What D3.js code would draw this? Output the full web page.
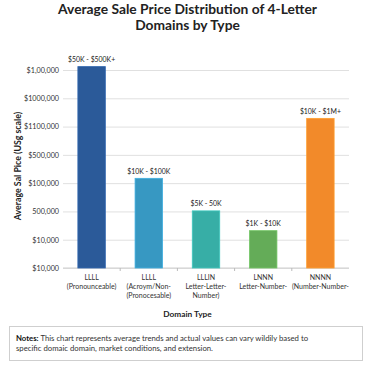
<!DOCTYPE html>
<html><head><meta charset="utf-8">
<script src="https://cdn.jsdelivr.net/npm/d3@7"></script>
<style>
html,body{margin:0;padding:0;background:#fff;}
svg{display:block;font-family:Lato,"Open Sans",sans-serif;}
</style></head>
<body>
<svg id="c" width="375" height="366"></svg>
<script>
// Data (values in axis-step units: each gridline is one step)
const categories = ["LLLL (Pronounceable)", "LLLL (Acronym)", "LLLIN", "LNNN", "NNNN"];
const categoryLabels = [
  ["LLLL", "(Pronounceable)"],
  ["LLLL", "(Acroym/Non-", "(Pronocesable)"],
  ["LLLIN", "Letter-Letter-", "Number)"],
  ["LNNN", "Letter-Number-"],
  ["NNNN", "(Number-Number-"]
];
const values = [7.12, 3.17, 2.02, 1.32, 5.29];
const rangeLabels = ["$50K - $500K+", "$10K - $100K", "$5K - 50K", "$1K - $10K", "$10K - $1M+"];
const colors = ["#2b5a99", "#3798c2", "#37aea6", "#64ac58", "#f28a2a"];
const tickLabels = ["$10,000", "$10,000", "500,000", "$100,000", "$500,000", "$1100,000", "$1000,000", "$1,00,000"];

(function () {
const svg = d3.select("#c");
const pL = 63, pR = 349, pT = 70, pB = 268;

const x = d3.scaleBand().domain(categories).range([pL, pR]).paddingInner(0.52).paddingOuter(0.26);
const y = d3.scaleLinear().domain([0, tickLabels.length - 1]).range([pB, pT]);

// Title
const title = svg.append("text").attr("x", 187.5).attr("text-anchor", "middle")
  .attr("font-weight", "bold").attr("font-size", 13.8).attr("fill", "#222");
title.append("tspan").attr("x", 187.5).attr("y", 14).text("Average Sale Price Distribution of 4-Letter");
title.append("tspan").attr("x", 187.5).attr("y", 30).text("Domains by Type");

// Grid + y axis
const yAxis = d3.axisLeft(y).tickValues(d3.range(tickLabels.length))
  .tickFormat((d, i) => tickLabels[i]).tickSize(-(pR - pL)).tickPadding(4);
const gy = svg.append("g").attr("transform", `translate(${pL},0)`).call(yAxis);
gy.select(".domain").remove();
gy.selectAll(".tick line").attr("stroke", "#e0e0e0").attr("stroke-width", 1);
gy.selectAll(".tick text").attr("font-size", 7.2).attr("fill", "#333").attr("font-family", "Lato, sans-serif");

// baseline
svg.append("line").attr("x1", pL).attr("x2", pR).attr("y1", pB).attr("y2", pB)
  .attr("stroke", "#cfcfcf");
// small ticks between categories
categories.slice(1).forEach(c => {
  const xx = x(c) - x.step() * 0.26;
  svg.append("line").attr("x1", xx).attr("x2", xx).attr("y1", pB).attr("y2", pB + 3).attr("stroke", "#bbb");
});

// Bars
svg.selectAll("rect.bar").data(values).join("rect").attr("class", "bar")
  .attr("x", (d, i) => x(categories[i]))
  .attr("width", x.bandwidth())
  .attr("y", d => y(d))
  .attr("height", d => y(0) - y(d))
  .attr("fill", (d, i) => colors[i])
  .attr("stroke", (d, i) => d3.color(colors[i]).brighter(0.4))
  .attr("stroke-width", 0.8);

// Value labels
svg.selectAll("text.vl").data(values).join("text").attr("class", "vl")
  .attr("x", (d, i) => x(categories[i]) + x.bandwidth() / 2)
  .attr("y", d => y(d) - 4.5)
  .attr("text-anchor", "middle").attr("font-size", 6.9).attr("fill", "#222")
  .text((d, i) => rangeLabels[i]);

// X category labels
categoryLabels.forEach((lines, i) => {
  const t = svg.append("text").attr("text-anchor", "middle").attr("font-size", 7).attr("fill", "#333");
  lines.forEach((ln, j) => {
    t.append("tspan").attr("x", x(categories[i]) + x.bandwidth() / 2).attr("y", 280 + j * 9).text(ln);
  });
});

// Axis titles
svg.append("text").attr("x", 187.5).attr("y", 317).attr("text-anchor", "middle")
  .attr("font-weight", "bold").attr("font-size", 8.3).attr("fill", "#222").text("Domain Type");
svg.append("text").attr("transform", "translate(21,166) rotate(-90)").attr("text-anchor", "middle")
  .attr("font-weight", "bold").attr("font-size", 8.8).attr("fill", "#222").text("Average Sal Pice (USg scale)");

// Notes box
svg.append("rect").attr("x", 9.5).attr("y", 326.5).attr("width", 353).attr("height", 34)
  .attr("fill", "#fff").attr("stroke", "#cfcfcf");
const n = svg.append("text").attr("font-size", 7.75).attr("fill", "#333");
const l1 = n.append("tspan").attr("x", 16).attr("y", 341);
l1.append("tspan").attr("font-weight", "bold").attr("fill", "#111").text("Notes:");
l1.append("tspan").text(" This chart represents average trends and actual values can vary wildily based to");
n.append("tspan").attr("x", 16).attr("y", 351).text("specific domaic domain, market conditions, and extension.");
})();
</script>
</body></html>
